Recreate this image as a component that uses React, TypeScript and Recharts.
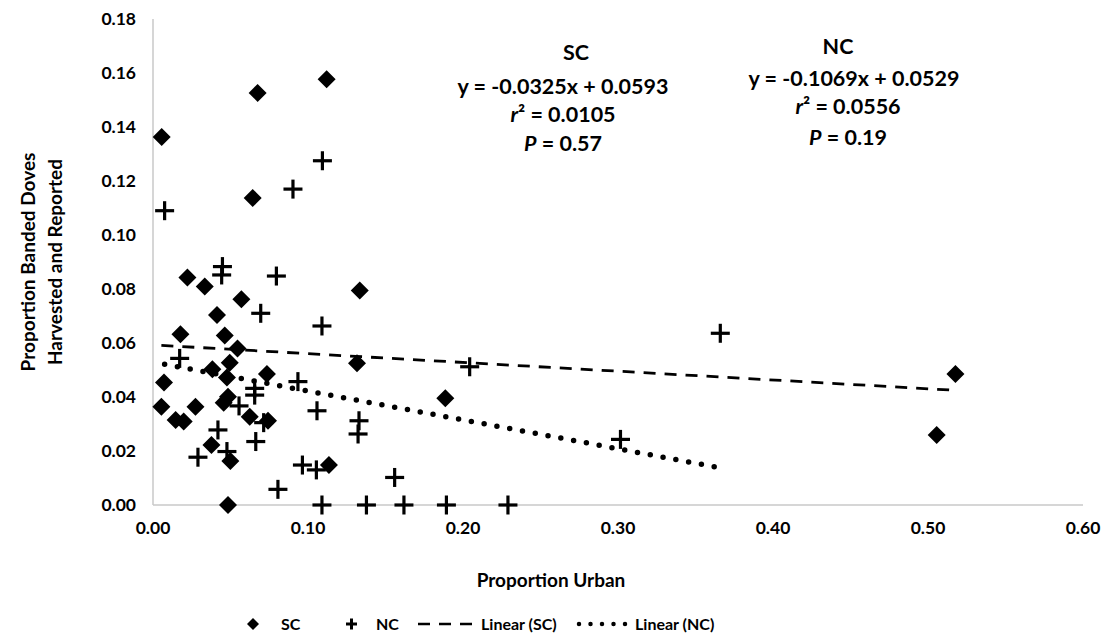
import React from 'react';
import { ScatterChart, Scatter, XAxis, YAxis } from 'recharts';

// SC counties (diamonds)
const scX = [0.0056, 0.0675, 0.112, 0.0643, 0.0222, 0.0334, 0.057, 0.0413, 0.0177, 0.0463, 0.0545,
  0.0495, 0.0383, 0.0477, 0.0735, 0.0071, 0.0484, 0.0456, 0.0054, 0.0274, 0.0146, 0.0198, 0.0624,
  0.0742, 0.0377, 0.0499, 0.1135, 0.0484, 0.1334, 0.1316, 0.1886, 0.5177, 0.5056];
const scY = [0.1363, 0.1526, 0.1577, 0.1137, 0.0843, 0.0809, 0.0762, 0.0704, 0.0632, 0.0628, 0.058,
  0.0527, 0.0503, 0.0472, 0.0485, 0.0454, 0.0401, 0.0379, 0.0364, 0.0364, 0.0315, 0.0309, 0.0327,
  0.0312, 0.0222, 0.0163, 0.0148, 0.0, 0.0794, 0.0525, 0.0395, 0.0485, 0.0259];

// NC counties (crosses)
const ncX = [0.1093, 0.0903, 0.0075, 0.0448, 0.0443, 0.0796, 0.0695, 0.109, 0.0172, 0.0935, 0.0656,
  0.0656, 0.0555, 0.1058, 0.0714, 0.0419, 0.0663, 0.0477, 0.029, 0.0964, 0.1054, 0.0806, 0.109,
  0.2043, 0.1329, 0.1323, 0.1559, 0.1377, 0.1619, 0.1893, 0.229, 0.366, 0.3016];
const ncY = [0.1275, 0.117, 0.109, 0.0883, 0.0852, 0.0848, 0.071, 0.0663, 0.0543, 0.0457, 0.0432,
  0.0407, 0.0367, 0.0349, 0.0305, 0.0278, 0.0235, 0.0198, 0.0177, 0.0148, 0.013, 0.0058, 0.0,
  0.0512, 0.0312, 0.0263, 0.0102, 0.0, 0.0, 0.0, 0.0, 0.0636, 0.0243];

const xTicks = [0, 0.1, 0.2, 0.3, 0.4, 0.5, 0.6];
const yTicks = [0, 0.02, 0.04, 0.06, 0.08, 0.1, 0.12, 0.14, 0.16, 0.18];

const scFit = { slope: -0.0325, intercept: 0.0593 };
const ncFit = { slope: -0.1069, intercept: 0.0529 };

const FONT = 'Lato, "Open Sans", sans-serif';

const toPoints = (xs: number[], ys: number[]) => xs.map((x, i) => ({ x, y: ys[i] }));
const trend = (xs: number[], fit: { slope: number; intercept: number }) => {
  const lo = Math.min(...xs);
  const hi = Math.max(...xs);
  return [
    { x: lo, y: fit.slope * lo + fit.intercept },
    { x: hi, y: fit.slope * hi + fit.intercept },
  ];
};

const scData = toPoints(scX, scY);
const ncData = toPoints(ncX, ncY);
const scTrend = trend(scX, scFit);
const ncTrend = trend(ncX, ncFit);

const Diamond = (props: any) => {
  const { cx, cy } = props;
  const r = 9;
  return <polygon points={`${cx},${cy - r} ${cx + r},${cy} ${cx},${cy + r} ${cx - r},${cy}`} fill="#000" />;
};

const Cross = (props: any) => {
  const { cx, cy } = props;
  const r = 9.5;
  return (
    <g stroke="#000" strokeWidth={3.2}>
      <line x1={cx - r} y1={cy} x2={cx + r} y2={cy} />
      <line x1={cx} y1={cy - r} x2={cx} y2={cy + r} />
    </g>
  );
};

const Empty = () => <g />;

const tickStyle = { fill: '#000', fontSize: 17.5, fontWeight: 'bold', fontFamily: FONT };

export default function App() {
  return (
    <div style={{ position: 'absolute', left: 0, top: 0, width: 1102, height: 640, background: '#fff' }}>
      <ScatterChart width={1102} height={640} margin={{ top: 19, right: 19, bottom: 105, left: 93 }}>
        <XAxis
          type="number"
          dataKey="x"
          domain={[0, 0.6]}
          ticks={xTicks}
          tickFormatter={(v: number) => v.toFixed(2)}
          tickLine={false}
          axisLine={{ stroke: '#c8c8c8', strokeWidth: 1.5 }}
          tickMargin={11}
          height={30}
          tick={tickStyle}
        />
        <YAxis
          type="number"
          dataKey="y"
          domain={[0, 0.18]}
          ticks={yTicks}
          tickFormatter={(v: number) => v.toFixed(2)}
          tickLine={false}
          axisLine={{ stroke: '#c8c8c8', strokeWidth: 1.5 }}
          tickMargin={11}
          width={60}
          tick={tickStyle}
        />
        <Scatter
          name="Linear (SC)"
          data={scTrend}
          line={{ stroke: '#000', strokeWidth: 2.8, strokeDasharray: '12 9' }}
          shape={Empty}
          isAnimationActive={false}
        />
        <Scatter
          name="Linear (NC)"
          data={ncTrend}
          line={{ stroke: '#000', strokeWidth: 5.5, strokeDasharray: '0 13', strokeLinecap: 'round' }}
          shape={Empty}
          isAnimationActive={false}
        />
        <Scatter name="SC" data={scData} shape={Diamond} isAnimationActive={false} />
        <Scatter name="NC" data={ncData} shape={Cross} isAnimationActive={false} />
      </ScatterChart>
      <svg width={1102} height={640} style={{ position: 'absolute', left: 0, top: 0, pointerEvents: 'none' }}>
        <g fontFamily={FONT} fontWeight="bold" fill="#000" textAnchor="middle">
          <g fontSize={19}>
            <text transform="translate(35,262) rotate(-90)">Proportion Banded Doves</text>
            <text transform="translate(62,262) rotate(-90)">Harvested and Reported</text>
            <text x={551} y={587}>Proportion Urban</text>
          </g>
          <g fontSize={21.5}>
            <text x={576} y={60}>SC</text>
            <text x={563} y={94}>y = -0.0325x + 0.0593</text>
            <text x={563} y={122}>
              <tspan fontStyle="italic">r</tspan>² = 0.0105
            </text>
            <text x={563} y={151}>
              <tspan fontStyle="italic">P</tspan> = 0.57
            </text>
            <text x={838} y={54}>NC</text>
            <text x={854} y={86}>y = -0.1069x + 0.0529</text>
            <text x={848} y={114}>
              <tspan fontStyle="italic">r</tspan>² = 0.0556
            </text>
            <text x={848} y={145}>
              <tspan fontStyle="italic">P</tspan> = 0.19
            </text>
          </g>
        </g>
        <g fontFamily={FONT} fontWeight="bold" fontSize={16} fill="#000">
          <polygon points="253,618 259,624 253,630 247,624" fill="#000" />
          <text x={281} y={630}>SC</text>
          <g stroke="#000" strokeWidth={3}>
            <line x1={346} y1={624} x2={357} y2={624} />
            <line x1={351.5} y1={618.5} x2={351.5} y2={629.5} />
          </g>
          <text x={376} y={630}>NC</text>
          <line x1={418} y1={624} x2={472} y2={624} stroke="#000" strokeWidth={2.5} strokeDasharray="12 9" />
          <text x={481} y={630}>Linear (SC)</text>
          <line x1={579} y1={624} x2={626} y2={624} stroke="#000" strokeWidth={4.5} strokeDasharray="0 11.5" strokeLinecap="round" />
          <text x={635} y={630}>Linear (NC)</text>
        </g>
      </svg>
    </div>
  );
}
